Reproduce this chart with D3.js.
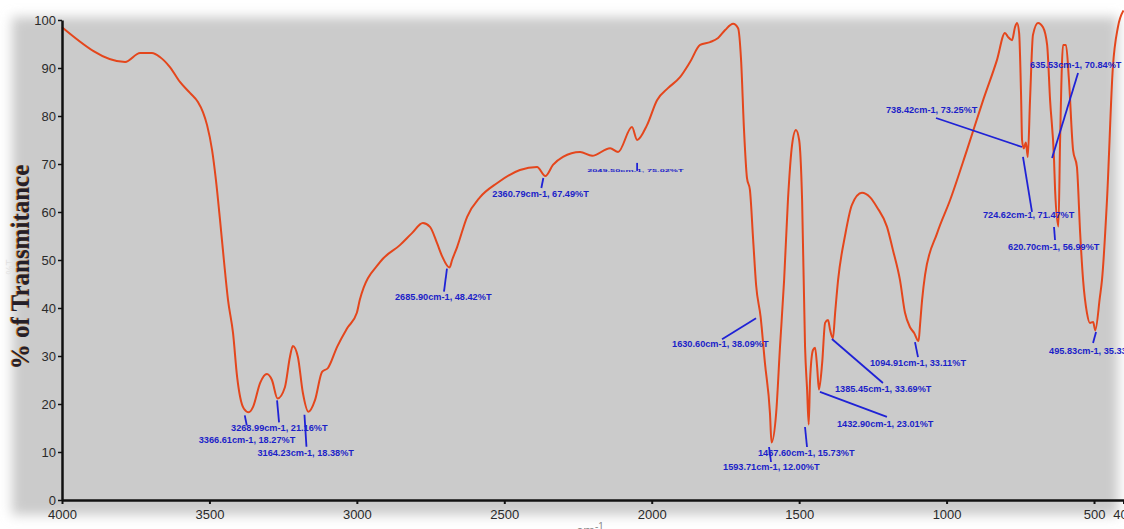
<!DOCTYPE html>
<html>
<head>
<meta charset="utf-8">
<script src="https://cdn.jsdelivr.net/npm/d3@7"></script>
<style>
  body { margin: 0; background: #fff; }
  svg { display: block; }
</style>
</head>
<body>
<svg id="chart" width="1124" height="529"></svg>
<script>
// IR transmittance spectrum: [wavenumber (cm-1), transmittance (%T)]
const spectrum = [
  [4000, 98.5], [3786, 91.25], [3735, 93.1], [3695, 93.1], [3668, 92.3], [3634, 90.2],
  [3600, 87.1], [3566, 84.8], [3539, 82.9], [3522, 80.8], [3508, 78.1], [3491, 72.9],
  [3478, 66.7], [3464, 58.3], [3451, 50], [3437, 41.7], [3420, 34.8], [3406, 25.6],
  [3396, 21.5], [3383, 19], [3366.61, 18.27], [3352, 19.4], [3328, 24.4], [3305, 26.25],
  [3288, 25], [3268.99, 21.16], [3244, 23.5], [3227, 29.8], [3217, 32.1], [3200, 29.8],
  [3183, 22.3], [3164.23, 18.38], [3142, 20.8], [3118, 26.7], [3098, 27.5], [3067, 31.9],
  [3033, 35.8], [3000, 39], [2990, 41.7], [2921, 49.6], [2854, 53.1], [2813, 55.6],
  [2776, 57.7], [2752, 56.9], [2728, 53.5], [2711, 50.8], [2685.90, 48.42], [2677, 50],
  [2660, 52.7], [2626, 59], [2582, 63.1], [2525, 66], [2447, 68.75], [2389, 69.4],
  [2360.79, 67.49], [2335, 69.8], [2301, 71.5], [2243, 72.5], [2202, 71.7], [2141, 73.3],
  [2114, 72.5], [2067, 77.7], [2049.50, 75.02], [2016, 78.1], [1982, 83.3], [1945, 85.8],
  [1904, 88.1], [1870, 91.25], [1836, 94.8], [1802, 95.4], [1775, 96.25], [1751, 97.9],
  [1724, 99.2], [1707, 98.3], [1697, 91.7], [1687, 77.1], [1677, 67.1], [1667, 64.6],
  [1656, 54.2], [1646, 44.8], [1630.60, 38.09], [1616, 28.5], [1599, 18.1], [1593.71, 12.00],
  [1578, 18.1], [1565, 31.9], [1551, 45.8], [1538, 62.5], [1524, 74], [1511, 77.1],
  [1500, 75], [1490, 62.5], [1480, 31.9], [1473, 22.9], [1467.60, 15.73], [1463, 25],
  [1453, 31.25], [1446, 31.7], [1439, 27.7], [1432.90, 23.01], [1422, 28.5], [1412, 36.9],
  [1402, 37.5], [1395, 35.4], [1385.45, 33.69], [1378, 39], [1368, 45.8], [1344, 55.2],
  [1321, 61.5], [1287, 64], [1260, 63.1], [1236, 61], [1202, 56.9], [1182, 52.1],
  [1158, 45.8], [1141, 39], [1124, 36], [1110, 34.8], [1094.91, 33.11], [1090, 36.5],
  [1083, 41.7], [1073, 46.9], [1032, 55.6], [988, 62.5], [931, 72.9], [876, 83.3],
  [829, 91.7], [802, 97.3], [792, 96.5], [778, 95.8], [768, 98.5], [761, 99.4],
  [754, 97.3], [747, 83.3], [744, 75], [738.42, 73.25], [731, 74.5], [724.62, 71.47],
  [717, 83.3], [707, 96.9], [690, 99.4], [673, 98.5], [659, 94.8], [649, 83.3],
  [635.53, 70.84], [632, 64.6], [620.70, 56.99], [615, 75], [605, 94.8], [595, 94.8],
  [585, 87.5], [571, 72.9], [558, 69.4], [547, 55.6], [537, 45.8], [524, 39],
  [514, 36.9], [503, 37.1], [495.83, 35.33], [480, 42.3], [473, 45.8], [456, 62.5],
  [436, 90.2], [419, 98.5], [400, 102]
];

// Picked peaks: [wavenumber, %T]
const peaks = [
  [3366.61, 18.27], [3268.99, 21.16], [3164.23, 18.38], [2685.90, 48.42], [2360.79, 67.49],
  [2049.50, 75.02], [1630.60, 38.09], [1593.71, 12.00], [1467.60, 15.73], [1432.90, 23.01],
  [1385.45, 33.69], [1094.91, 33.11], [738.42, 73.25], [724.62, 71.47], [635.53, 70.84],
  [620.70, 56.99], [495.83, 35.33]
];

// Leader line / label placement per peak, in pixels relative to the peak:
// [lineStartDx, lineStartDy, lineEndDx, lineEndDy, textLeftDx, textMidDy, squashed]
const labelLayout = [
  [-4, 3, -2, 13, -50, 28, 0],
  [-0.5, 2, 1.5, 24, -46.5, 29.6, 0],
  [-4, 3, -2, 35, -51, 41, 0],
  [-2.5, 1, -5.5, 24, -54.5, 29.4, 0],
  [-2, 2, -4, 12, -53, 18, 0],
  [0, 23, 0, 31, -50, 31, 1],
  [-4.6, 1, -38.6, 22, -88.6, 27, 0],
  [-2.5, 4.6, -0.5, 19.6, -48.5, 24.6, 0],
  [-3.7, 2.5, -1.7, 22.5, -50.7, 28.5, 0],
  [1, 2.4, 68, 27.4, 18, 34.4, 0],
  [-1, 0.7, 50, 44.7, 2, 50.7, 0],
  [-3.6, 1, -0.6, 16, -48.6, 22, 0],
  [-1.7, -1.4, -87.7, -30.4, -137.7, -38.4, 0],
  [-4.8, 0, 4.2, 55, -44.8, 58, 0],
  [-2, -2, 24, -87, -24, -95, 0],
  [-4.4, 0.6, -3.4, 13.6, -50.4, 20.6, 0],
  [0.8, 1.6, -2.2, 12.6, -46.2, 20.6, 0]
];

const xTicks = [4000, 3500, 3000, 2500, 2000, 1500, 1000, 500, 400];
const yTicks = [0, 10, 20, 30, 40, 50, 60, 70, 80, 90, 100];

const svg = d3.select("#chart");
const W = 1124, H = 529;

const x = d3.scaleLinear().domain([4000, 400]).range([62, 1123.5]);
const y = d3.scaleLinear().domain([0, 100]).range([500, 20]);

// Soft-edged grey backdrop panel
const defs = svg.append("defs");
defs.append("filter").attr("id", "soft").attr("x", "-5%").attr("y", "-5%")
  .attr("width", "110%").attr("height", "110%")
  .append("feGaussianBlur").attr("stdDeviation", 6);

svg.append("rect").attr("width", W).attr("height", H).attr("fill", "#fff");
svg.append("rect")
  .attr("x", 12).attr("y", 17).attr("width", 1106).attr("height", 498)
  .attr("fill", "#cbcbcb").attr("filter", "url(#soft)");

// Spectrum trace
const line = d3.line()
  .x(d => x(d[0]))
  .y(d => y(d[1]))
  .curve(d3.curveMonotoneX);

svg.append("path")
  .datum(spectrum)
  .attr("fill", "none")
  .attr("stroke", "#e4461c")
  .attr("stroke-width", 2)
  .attr("stroke-linejoin", "round")
  .attr("d", line);

// Peak annotations
const ann = svg.append("g");
peaks.forEach((p, i) => {
  const [a, b, c, d, tx, ty, squash] = labelLayout[i];
  const px = x(p[0]), py = y(p[1]);
  ann.append("line")
    .attr("x1", px + a).attr("y1", py + b)
    .attr("x2", px + c).attr("y2", py + d)
    .attr("stroke", "#1f22d6").attr("stroke-width", 1.8);
  const label = `${p[0].toFixed(2)}cm-1, ${p[1].toFixed(2)}%T`;
  const t = ann.append("text")
    .attr("font-family", "Liberation Sans, Arial, sans-serif")
    .attr("font-size", 9.2)
    .attr("font-weight", "bold")
    .attr("fill", "#1c1fc8")
    .attr("dominant-baseline", "central")
    .text(label);
  if (squash) {
    t.attr("transform", `translate(${px + tx},${py + ty}) scale(1,0.3)`);
  } else {
    t.attr("x", px + tx).attr("y", py + ty);
  }
});

// Axes
const axisFont = "Liberation Sans, Arial, sans-serif";
const xAxis = svg.append("g")
  .attr("transform", "translate(0,500)")
  .call(d3.axisBottom(x).tickValues(xTicks).tickSize(4).tickSizeOuter(0).tickFormat(d3.format("d")));
xAxis.select(".domain").attr("stroke", "#111").attr("stroke-width", 2.5);
xAxis.selectAll(".tick line").attr("stroke", "#111").attr("stroke-width", 2);
xAxis.selectAll(".tick text")
  .attr("font-family", axisFont).attr("font-size", 13).attr("fill", "#2a2a2a").attr("dy", "0.9em");

const yAxis = svg.append("g")
  .attr("transform", "translate(62,0)")
  .call(d3.axisLeft(y).tickValues(yTicks).tickSize(4).tickSizeOuter(0).tickPadding(2));
yAxis.select(".domain").attr("stroke", "#111").attr("stroke-width", 2.5);
yAxis.selectAll(".tick line").attr("stroke", "#111").attr("stroke-width", 1.5);
yAxis.selectAll(".tick text")
  .attr("font-family", axisFont).attr("font-size", 13).attr("fill", "#2a2a2a");

// Y-axis title with a warm fringe
const yTitle = "% of Transmitance";
svg.append("text")
  .attr("transform", "translate(27.5,267) rotate(-90)")
  .attr("text-anchor", "middle")
  .attr("font-family", "Liberation Serif, Times New Roman, serif")
  .attr("font-weight", "bold").attr("font-size", 25)
  .attr("fill", "#c9781e")
  .text(yTitle);
svg.append("text")
  .attr("transform", "translate(29,267) rotate(-90)")
  .attr("text-anchor", "middle")
  .attr("font-family", "Liberation Serif, Times New Roman, serif")
  .attr("font-weight", "bold").attr("font-size", 25)
  .attr("fill", "#231f2a")
  .text(yTitle);

// Faint unit caption behind the title
svg.append("text")
  .attr("transform", "translate(14,267) rotate(-90)")
  .attr("text-anchor", "middle")
  .attr("font-family", axisFont).attr("font-size", 10)
  .attr("fill", "#e2e2e2")
  .text("%T");

// X-axis unit caption
const xt = svg.append("text")
  .attr("x", 590).attr("y", 536)
  .attr("text-anchor", "middle")
  .attr("font-family", axisFont).attr("font-size", 14)
  .attr("fill", "#8c8c8c");
xt.append("tspan").text("cm");
xt.append("tspan").attr("dy", -6).attr("font-size", 10).text("-1");
</script>
</body>
</html>
